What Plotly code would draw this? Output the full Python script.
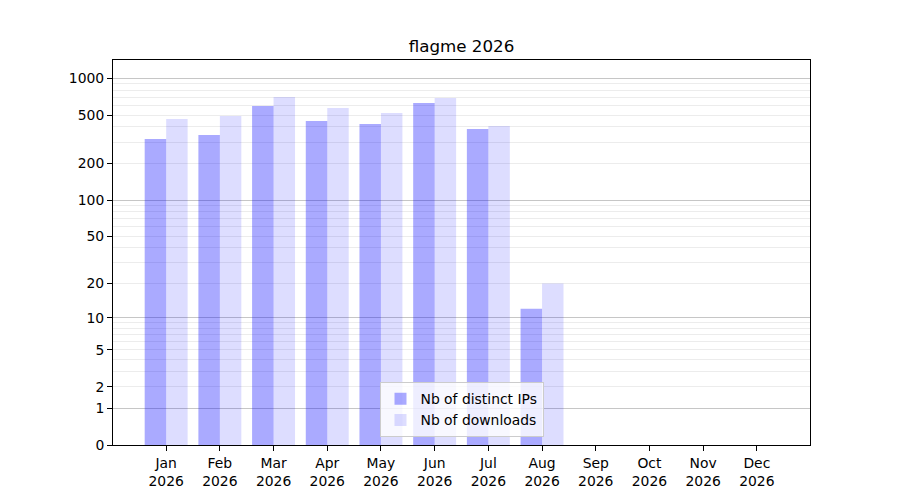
import plotly.graph_objects as go

# monthly stats
year = 2026
months = ["Jan", "Feb", "Mar", "Apr", "May", "Jun",
          "Jul", "Aug", "Sep", "Oct", "Nov", "Dec"]
distinct_ips = [318, 343, 593, 447, 423, 628, 384, 12, 0, 0, 0, 0]
downloads = [464, 491, 704, 571, 520, 690, 407, 20, 0, 0, 0, 0]

# y scale is log(1 + n), so the axis works on n + 1
y_ticks = [0, 1, 2, 5, 10, 20, 50, 100, 200, 500, 1000]
y_major_grid = [1, 10, 100, 1000]
y_minor_grid = [k * 10 ** e for e in range(3) for k in range(2, 10)]

labels = [f"{m}<br>{year}" for m in months]
font = "DejaVu Sans"

fig = go.Figure()
# base=1 -> bar runs from 1 to 1 + n on the log axis
fig.add_trace(go.Bar(
    x=labels, y=distinct_ips, base=1,
    name="Nb of distinct IPs", marker=dict(color="rgba(0,0,255,0.333)", line_width=0),
))
fig.add_trace(go.Bar(
    x=labels, y=downloads, base=1,
    name="Nb of downloads", marker=dict(color="rgba(0,0,255,0.135)", line_width=0),
))
# empty trace so the overlay axis (major grid) gets drawn
fig.add_trace(go.Scatter(x=[], y=[], yaxis="y2", showlegend=False, hoverinfo="skip"))

# page body has an 8px margin, margins below compensate for it
fig.update_layout(
    width=900, height=500,
    margin=dict(l=105, r=98, t=52, b=63),
    paper_bgcolor="white", plot_bgcolor="rgba(0,0,0,0)",
    font=dict(family=font, size=14, color="black"),
    barmode="group", bargap=0.2, bargroupgap=0,
    title=dict(text=f"flagme {year}", x=0.5, xref="paper", xanchor="center",
               y=1 - 38 / 500, yanchor="middle", yref="container",
               font=dict(size=16.7)),
    legend=dict(x=0.5, xanchor="center", y=0.02, yanchor="bottom",
                bgcolor="rgba(255,255,255,0.8)", bordercolor="#cccccc", borderwidth=1,
                font=dict(size=13.9), tracegroupgap=0),
    xaxis=dict(range=[-0.99, 11.99], showline=True, linecolor="black", linewidth=1,
               mirror=True, ticks="outside", ticklen=5, tickcolor="black",
               showgrid=False, tickfont=dict(size=13.9), automargin=False),
    yaxis=dict(type="log", range=[0, 3.15],
               tickvals=[t + 1 for t in y_ticks], ticktext=[str(t) for t in y_ticks],
               showline=True, linecolor="black", linewidth=1, mirror=True,
               ticks="outside", ticklen=5, tickcolor="black", showgrid=False,
               zeroline=False, tickfont=dict(size=13.9), automargin=False,
               minor=dict(tickvals=[t + 1 for t in y_minor_grid], showgrid=True,
                          gridcolor="#ececec", gridwidth=1, ticks="")),
    yaxis2=dict(type="log", overlaying="y", matches="y", range=[0, 3.15],
                tickvals=[t + 1 for t in y_major_grid], showticklabels=False,
                ticks="", showgrid=True, gridcolor="#c6c6c6", gridwidth=1,
                showline=False, zeroline=False, automargin=False),
)

fig.write_html("out.html")
